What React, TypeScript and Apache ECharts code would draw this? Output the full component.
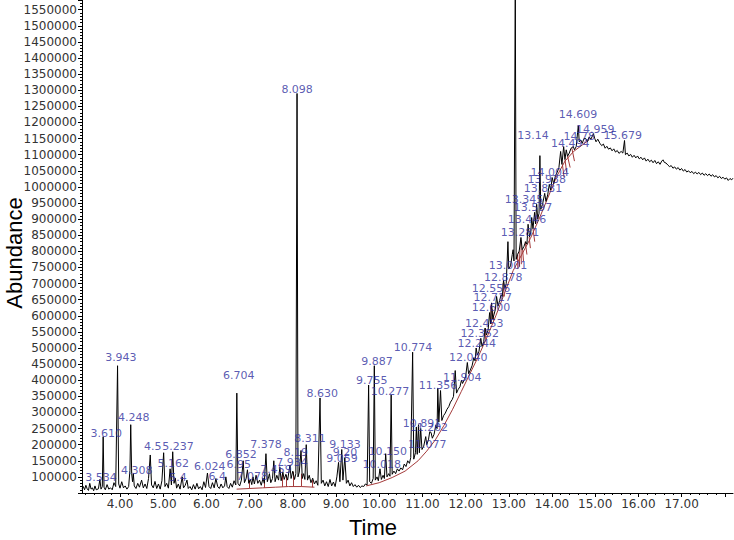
import React, { useEffect, useRef } from "react";
import * as echarts from "echarts";

// ---- Axis settings (time in minutes, abundance in counts) ----
const X_MIN = 3.12;
const X_MAX = 18.19;
const Y_MIN = 50000;
const Y_MAX = 1580000;
const Y_STEP = 50000;
const X_TICK_LABELS = [4, 5, 6, 7, 8, 9, 10, 11, 12, 13, 14, 15, 16, 17];
const X_MAJOR_TICKS = [4, 5, 6, 7, 8, 9, 10, 11, 12, 13, 14, 15, 16, 17, 18];

// ---- Total ion chromatogram trace: [time, abundance] ----
const TRACE: [number, number][] = [
  [3.12, 62000], [3.15, 70000], [3.18, 60000], [3.21, 74000], [3.24, 63000], [3.27, 58000],
  [3.3, 80000], [3.33, 62000], [3.36, 66000], [3.39, 57000], [3.42, 72000], [3.45, 60000],
  [3.5, 63000], [3.534, 92000], [3.56, 62000], [3.59, 70000], [3.61, 225000], [3.63, 68000],
  [3.66, 60000], [3.7, 76000], [3.74, 62000], [3.78, 66000], [3.82, 60000], [3.86, 82000],
  [3.9, 70000], [3.943, 445000], [3.97, 78000], [4.0, 65000], [4.04, 85000], [4.08, 66000],
  [4.12, 72000], [4.16, 62000], [4.2, 70000], [4.23, 120000], [4.248, 262000], [4.27, 110000],
  [4.29, 85000], [4.308, 110000], [4.33, 72000], [4.37, 64000], [4.41, 80000], [4.45, 68000],
  [4.5, 90000], [4.54, 66000], [4.58, 78000], [4.62, 64000], [4.66, 95000], [4.7, 168000],
  [4.73, 75000], [4.77, 66000], [4.81, 86000], [4.85, 64000], [4.89, 78000], [4.93, 62000],
  [4.97, 88000], [5.01, 175000], [5.04, 70000], [5.08, 80000], [5.12, 65000], [5.16, 125000],
  [5.19, 75000], [5.22, 178000], [5.25, 80000], [5.28, 96000], [5.31, 65000], [5.35, 78000],
  [5.39, 62000], [5.44, 100000], [5.47, 66000], [5.51, 74000], [5.55, 90000], [5.58, 64000],
  [5.62, 70000], [5.66, 60000], [5.7, 76000], [5.74, 62000], [5.78, 80000], [5.82, 63000],
  [5.86, 70000], [5.9, 60000], [5.94, 85000], [5.98, 67000], [6.024, 112000], [6.06, 70000],
  [6.1, 64000], [6.14, 82000], [6.18, 66000], [6.22, 95000], [6.26, 70000], [6.3, 64000],
  [6.34, 78000], [6.38, 66000], [6.42, 72000], [6.45, 100000], [6.48, 70000], [6.52, 64000],
  [6.56, 80000], [6.6, 68000], [6.64, 88000], [6.68, 75000], [6.704, 360000], [6.73, 80000],
  [6.77, 72000], [6.81, 90000], [6.852, 150000], [6.88, 82000], [6.92, 95000], [6.95, 122000],
  [6.98, 80000], [7.02, 92000], [7.05, 76000], [7.078, 100000], [7.11, 78000], [7.15, 105000],
  [7.19, 80000], [7.23, 90000], [7.27, 74000], [7.31, 96000], [7.34, 80000], [7.378, 172000],
  [7.41, 85000], [7.44, 100000], [7.459, 110000], [7.49, 82000], [7.53, 95000], [7.56, 150000],
  [7.59, 85000], [7.63, 105000], [7.67, 90000], [7.7, 130000], [7.73, 88000], [7.77, 115000],
  [7.8, 92000], [7.84, 108000], [7.88, 90000], [7.934, 137000], [7.96, 95000], [8.0, 118000],
  [8.04, 92000], [8.07, 110000], [8.098, 1290000], [8.12, 100000], [8.15, 115000], [8.19, 182000],
  [8.22, 95000], [8.25, 110000], [8.28, 92000], [8.311, 200000], [8.34, 90000], [8.38, 105000],
  [8.42, 82000], [8.46, 96000], [8.5, 78000], [8.54, 88000], [8.58, 74000], [8.63, 345000],
  [8.66, 80000], [8.7, 90000], [8.74, 72000], [8.78, 85000], [8.82, 70000], [8.86, 92000],
  [8.9, 72000], [8.94, 84000], [8.98, 70000], [9.02, 100000], [9.059, 145000], [9.09, 85000],
  [9.133, 185000], [9.16, 90000], [9.204, 160000], [9.24, 80000], [9.28, 90000], [9.32, 72000],
  [9.36, 82000], [9.4, 70000], [9.44, 76000], [9.48, 68000], [9.52, 74000], [9.56, 67000],
  [9.6, 72000], [9.64, 70000], [9.68, 78000], [9.72, 75000], [9.755, 385000], [9.78, 85000],
  [9.82, 80000], [9.86, 95000], [9.887, 445000], [9.91, 90000], [9.95, 100000], [9.98, 88000],
  [10.018, 125000], [10.05, 92000], [10.09, 105000], [10.12, 95000], [10.15, 172000], [10.18, 100000],
  [10.22, 110000], [10.25, 102000], [10.277, 354000], [10.3, 108000], [10.34, 118000], [10.38, 110000],
  [10.42, 125000], [10.46, 118000], [10.5, 128000], [10.54, 122000], [10.58, 140000], [10.62, 132000],
  [10.66, 150000], [10.7, 142000], [10.73, 160000], [10.774, 487000], [10.8, 155000], [10.84, 175000],
  [10.86, 255000], [10.88, 170000], [10.91, 262000], [10.93, 175000], [10.96, 250000], [10.99, 185000],
  [11.03, 195000], [11.077, 225000], [11.1, 200000], [11.14, 215000], [11.17, 240000], [11.2, 238000],
  [11.23, 220000], [11.27, 232000], [11.31, 260000], [11.34, 250000], [11.356, 375000], [11.38, 270000],
  [11.42, 368000], [11.45, 275000], [11.49, 290000], [11.53, 298000], [11.57, 310000], [11.61, 318000],
  [11.65, 332000], [11.69, 340000], [11.72, 350000], [11.76, 430000], [11.79, 360000], [11.83, 372000],
  [11.87, 380000], [11.904, 400000], [11.93, 390000], [11.97, 402000], [12.0, 410000], [12.04, 455000],
  [12.07, 420000], [12.11, 432000], [12.15, 445000], [12.19, 470000], [12.22, 460000], [12.244, 500000],
  [12.27, 478000], [12.31, 490000], [12.352, 530000], [12.38, 505000], [12.42, 520000], [12.453, 562000],
  [12.48, 540000], [12.52, 555000], [12.556, 610000], [12.58, 575000], [12.6, 640000], [12.63, 590000],
  [12.66, 605000], [12.69, 620000], [12.717, 660000], [12.75, 630000], [12.79, 648000], [12.82, 665000],
  [12.85, 660000], [12.878, 710000], [12.91, 685000], [12.94, 700000], [12.98, 830000], [13.0, 745000],
  [13.04, 755000], [13.08, 790000], [13.1, 805000], [13.12, 770000], [13.15, 1620000], [13.17, 775000],
  [13.2, 790000], [13.24, 800000], [13.281, 843000], [13.31, 805000], [13.35, 815000], [13.39, 830000],
  [13.42, 822000], [13.446, 884000], [13.48, 845000], [13.51, 860000], [13.53, 905000], [13.56, 870000],
  [13.597, 921000], [13.62, 885000], [13.645, 946000], [13.67, 900000], [13.7, 918000], [13.72, 1097000],
  [13.74, 930000], [13.78, 945000], [13.831, 980000], [13.86, 955000], [13.9, 975000], [13.938, 1008000],
  [13.97, 990000], [14.004, 1029000], [14.04, 1010000], [14.08, 1035000], [14.12, 1045000], [14.16, 1060000],
  [14.2, 1110000], [14.23, 1070000], [14.27, 1125000], [14.3, 1085000], [14.33, 1115000], [14.36, 1095000],
  [14.4, 1105000], [14.44, 1120000], [14.494, 1125000], [14.52, 1115000], [14.56, 1125000], [14.609, 1190000],
  [14.63, 1140000], [14.67, 1145000], [14.7, 1135000], [14.74, 1150000], [14.78, 1150000], [14.82, 1140000],
  [14.86, 1155000], [14.9, 1148000], [14.959, 1165000], [14.99, 1150000], [15.02, 1140000], [15.06, 1148000],
  [15.11, 1135000], [15.15, 1128000], [15.19, 1133000], [15.23, 1120000], [15.27, 1126000], [15.31, 1117000],
  [15.35, 1121000], [15.39, 1112000], [15.43, 1118000], [15.47, 1108000], [15.51, 1113000], [15.55, 1104000],
  [15.6, 1110000], [15.64, 1105000], [15.679, 1144000], [15.7, 1100000], [15.74, 1105000], [15.78, 1096000],
  [15.82, 1101000], [15.86, 1092000], [15.9, 1098000], [15.94, 1090000], [15.98, 1096000], [16.02, 1087000],
  [16.06, 1092000], [16.1, 1084000], [16.14, 1090000], [16.18, 1080000], [16.22, 1086000], [16.26, 1078000],
  [16.3, 1083000], [16.34, 1075000], [16.38, 1082000], [16.42, 1072000], [16.46, 1078000], [16.5, 1070000],
  [16.54, 1080000], [16.57, 1084000], [16.6, 1076000], [16.64, 1074000], [16.68, 1068000], [16.72, 1063000],
  [16.76, 1066000], [16.8, 1058000], [16.84, 1062000], [16.88, 1055000], [16.92, 1060000], [16.96, 1052000],
  [17.0, 1057000], [17.04, 1049000], [17.08, 1054000], [17.12, 1046000], [17.16, 1050000], [17.2, 1044000],
  [17.24, 1048000], [17.28, 1041000], [17.32, 1046000], [17.36, 1040000], [17.4, 1045000], [17.44, 1038000],
  [17.48, 1043000], [17.52, 1036000], [17.56, 1041000], [17.6, 1035000], [17.64, 1040000], [17.68, 1033000],
  [17.72, 1038000], [17.76, 1031000], [17.8, 1035000], [17.84, 1028000], [17.88, 1033000], [17.92, 1026000],
  [17.96, 1030000], [18.0, 1024000], [18.04, 1028000], [18.08, 1020000], [18.12, 1026000], [18.16, 1022000],
  [18.19, 1027000],
];

// ---- Integration baseline (red) ----
const RED_BASELINE_EARLY: [number, number][] = [
  [6.7, 62000], [7.0, 64000], [7.3, 66000], [7.6, 68000], [7.9, 70000], [8.2, 70000], [8.5, 68000],
];
const RED_BASELINE: [number, number][] = [
  [9.7, 72000], [10.0, 82000], [10.3, 98000], [10.6, 118000], [10.9, 150000], [11.1, 180000],
  [11.3, 215000], [11.5, 260000], [11.7, 310000], [11.9, 365000], [12.1, 420000], [12.3, 475000],
  [12.5, 535000], [12.7, 600000], [12.9, 670000], [13.1, 740000], [13.3, 790000], [13.5, 840000],
  [13.7, 900000], [13.9, 965000], [14.1, 1030000], [14.3, 1080000], [14.5, 1110000], [14.7, 1130000],
  [14.85, 1145000],
];
// red drop strokes: [t1, v1, t2, v2]
const RED_DROPS: [number, number, number, number][] = [
  [7.0, 90000, 7.0, 64000], [7.35, 95000, 7.35, 66000], [7.75, 110000, 7.75, 69000],
  [7.85, 105000, 7.85, 69000], [8.02, 115000, 8.02, 70000], [8.2, 110000, 8.2, 70000],
  [8.45, 90000, 8.45, 68000],
  [12.44, 560000, 12.47, 525000], [12.58, 630000, 12.6, 575000], [12.62, 620000, 12.65, 585000],
  [12.86, 700000, 12.9, 660000], [13.2, 790000, 13.21, 745000], [13.24, 800000, 13.25, 752000],
  [13.28, 835000, 13.29, 760000], [13.32, 805000, 13.34, 770000], [13.38, 830000, 13.42, 790000],
  [13.47, 845000, 13.5, 810000], [13.56, 870000, 13.6, 830000], [14.24, 1070000, 14.28, 1030000],
  [14.3, 1085000, 14.34, 1045000], [14.36, 1095000, 14.42, 1060000], [14.46, 1120000, 14.52, 1080000],
];

// ---- Peak labels: [text, centre time, centre abundance] ----
const PEAK_LABELS: [string, number, number][] = [
  ["3.534", 3.56, 97000], ["3.610", 3.68, 236000], ["3.943", 4.02, 472000],
  ["4.248", 4.32, 283000], ["4.308", 4.39, 119000], ["4.5", 4.76, 193000],
  ["5.237", 5.34, 193000], ["5.162", 5.23, 143000], ["5.4", 5.34, 97000],
  ["6.024", 6.08, 131000], ["6.4", 6.25, 100000], ["6.704", 6.75, 416000],
  ["6.852", 6.8, 168000], ["6.95", 6.75, 137000], ["7.078", 7.06, 100000],
  ["7.459", 7.61, 122000], ["7.378", 7.38, 199000], ["7.934", 7.98, 146000],
  ["8.098", 8.1, 1302000], ["8.19", 8.07, 177000], ["8.311", 8.4, 218000],
  ["8.630", 8.68, 360000], ["9.133", 9.21, 202000], ["9.20", 9.21, 177000],
  ["9.059", 9.14, 156000], ["9.755", 9.83, 400000], ["9.887", 9.95, 459000],
  ["10.277", 10.25, 366000], ["10.150", 10.2, 180000], ["10.018", 10.06, 137000],
  ["10.774", 10.78, 503000], ["11.356", 11.36, 385000], ["10.891", 10.99, 267000],
  ["11.202", 11.15, 252000], ["11.077", 11.11, 199000], ["11.904", 11.92, 410000],
  ["12.040", 12.06, 469000], ["12.244", 12.26, 515000], ["12.352", 12.33, 546000],
  ["12.453", 12.43, 577000], ["12.600", 12.59, 627000], ["12.717", 12.63, 658000],
  ["12.556", 12.59, 685000], ["12.878", 12.87, 720000], ["13.001", 12.98, 757000],
  ["13.281", 13.26, 859000], ["13.446", 13.42, 899000], ["13.597", 13.56, 936000],
  ["13.345", 13.35, 961000], ["13.831", 13.79, 995000], ["13.938", 13.88, 1023000],
  ["14.004", 13.95, 1044000], ["14.494", 14.42, 1135000], ["13.14", 13.56, 1160000],
  ["14.78", 14.63, 1156000], ["15.679", 15.64, 1160000], ["14.959", 15.0, 1178000],
  ["14.609", 14.6, 1225000],
];

export default function App() {
  const ref = useRef<HTMLDivElement>(null);
  useEffect(() => {
    if (!ref.current) return;
    const chart = echarts.init(ref.current, null, { renderer: "svg" });
    const smallFont = "DejaVu Sans";
    const minorX: number[] = [];
    for (let i = 16; i <= 90; i++) {
      const v = i / 5;
      if (i % 5 !== 0) minorX.push(v);
    }
    const dropData = RED_DROPS.map((d) => ({ coords: [[d[0], d[1]], [d[2], d[3]]] }));
    chart.setOption({
      animation: false,
      backgroundColor: "#ffffff",
      grid: { left: 82, right: 1, top: 0, bottom: 47, containLabel: false, outerBoundsMode: "none" },
      xAxis: [
        {
          type: "value",
          min: X_MIN,
          max: X_MAX,
          axisLine: { show: true, onZero: false, lineStyle: { color: "#000", width: 1 } },
          axisTick: { show: true, length: 4, customValues: X_MAJOR_TICKS, lineStyle: { color: "#000" } },
          axisLabel: {
            show: true,
            customValues: X_TICK_LABELS,
            formatter: (v: number) => v.toFixed(2),
            color: "#333",
            fontFamily: smallFont,
            fontSize: 12,
            margin: 5,
          },
          splitLine: { show: false },
        },
        {
          type: "value",
          min: X_MIN,
          max: X_MAX,
          position: "bottom",
          axisLine: { show: false, onZero: false },
          axisTick: { show: true, length: 2, customValues: minorX, lineStyle: { color: "#000" } },
          axisLabel: { show: false },
          splitLine: { show: false },
        },
      ],
      yAxis: {
        type: "value",
        min: Y_MIN,
        max: Y_MAX,
        interval: Y_STEP,
        axisLine: { show: true, onZero: false, lineStyle: { color: "#000", width: 1 } },
        axisTick: { show: true, length: 4, lineStyle: { color: "#000" } },
        minorTick: { show: true, splitNumber: 5, length: 2, lineStyle: { color: "#000" } },
        axisLabel: {
          show: true,
          showMinLabel: false,
          showMaxLabel: false,
          formatter: (v: number) => String(v),
          color: "#333",
          fontFamily: smallFont,
          fontSize: 12,
          margin: 5,
        },
        splitLine: { show: false },
      },
      graphic: [
        {
          type: "text",
          x: 14,
          y: 253,
          rotation: Math.PI / 2,
          style: {
            text: "Abundance",
            font: '22px "Liberation Sans", Arial, sans-serif',
            fill: "#000",
            textAlign: "center",
            textVerticalAlign: "middle",
          },
        },
        {
          type: "text",
          x: 373,
          y: 527,
          style: {
            text: "Time",
            font: '22px "Liberation Sans", Arial, sans-serif',
            fill: "#000",
            textAlign: "center",
            textVerticalAlign: "middle",
          },
        },
      ],
      series: [
        {
          type: "line",
          data: RED_BASELINE_EARLY,
          showSymbol: false,
          lineStyle: { color: "#a33a3a", width: 1 },
          silent: true,
          z: 1,
        },
        {
          type: "line",
          data: RED_BASELINE,
          showSymbol: false,
          lineStyle: { color: "#a33a3a", width: 1 },
          silent: true,
          z: 1,
        },
        {
          type: "lines",
          coordinateSystem: "cartesian2d",
          data: dropData,
          lineStyle: { color: "#a33a3a", width: 1, opacity: 1 },
          silent: true,
          z: 1,
        },
        {
          type: "line",
          data: TRACE,
          showSymbol: false,
          lineStyle: { color: "#000", width: 1 },
          silent: true,
          clip: true,
          z: 2,
        },
        {
          type: "scatter",
          data: PEAK_LABELS.map((p) => ({ name: p[0], value: [p[1], p[2]] })),
          symbolSize: 1,
          itemStyle: { color: "rgba(0,0,0,0)" },
          label: {
            show: true,
            position: "inside",
            formatter: "{b}",
            color: "#30309e",
            fontFamily: smallFont,
            fontSize: 11,
          },
          silent: true,
          z: 3,
        },
      ],
    });
    return () => chart.dispose();
  }, []);
  return (
    <div
      ref={ref}
      style={{ position: "fixed", left: 0, top: 0, width: 734, height: 540, background: "#fff" }}
    />
  );
}
